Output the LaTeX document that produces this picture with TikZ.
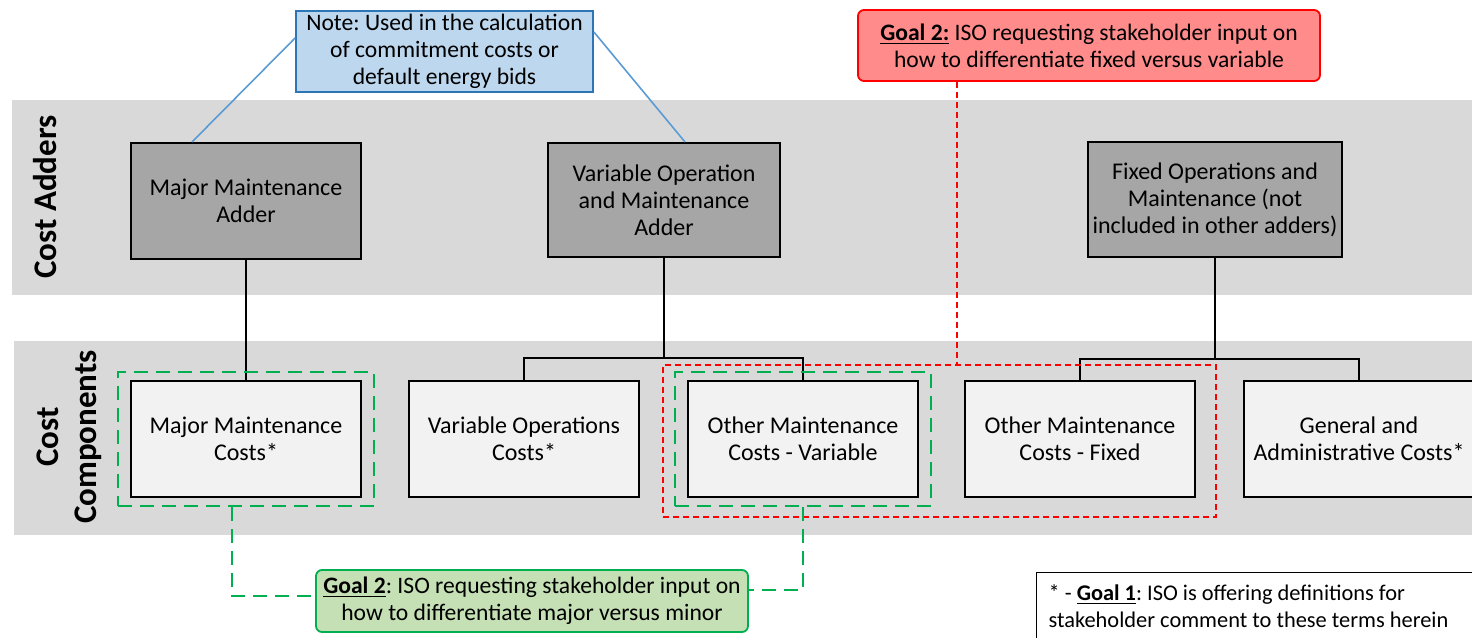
\documentclass[tikz,border=0pt]{standalone}
\usepackage{fontspec}
\setmainfont{Carlito}
\frenchspacing
\usetikzlibrary{fit}
\definecolor{bandgray}{HTML}{D9D9D9}
\definecolor{addergray}{HTML}{A6A6A6}
\definecolor{partgray}{HTML}{F2F2F2}
\definecolor{notefill}{HTML}{BDD7EE}
\definecolor{notedraw}{HTML}{2E75B6}
\definecolor{noteline}{HTML}{5B9BD5}
\definecolor{goalred}{HTML}{FF8B8B}
\definecolor{goalgreen}{HTML}{C5E0B4}
\definecolor{markgreen}{HTML}{00B050}
\tikzset{
	box/.style={draw=black, line width=1pt, minimum width=115pt, minimum height=58pt, align=center, inner sep=1pt, font=\fontsize{12}{13.5}\selectfont},
	adder/.style={box, fill=addergray},
	part/.style={box, fill=partgray},
	link/.style={line width=1pt},
	band/.style={font=\fontsize{16.5}{19}\selectfont\bfseries, rotate=90, align=center},
	greenmark/.style={draw=markgreen, line width=1.2pt, dash pattern=on 7pt off 4pt},
	redmark/.style={draw=red, line width=1pt, dash pattern=on 3pt off 2pt},
	goal/.style={rounded corners=3pt, line width=0.9pt, align=center, font=\fontsize{11.8}{13.5}\selectfont}
}
\begin{document}
\begin{tikzpicture}[x=0.5pt, y=-0.5pt]
	\useasboundingbox (0,0) rectangle (1472,637);
	% grey bands
	\fill[bandgray] (12,100) rectangle (1472,295);
	\fill[bandgray] (14,341) rectangle (1472,535);
	\node[band] (adders) at (45,197) {Cost Adders};
	\node[band] (components) at (69,437) {Cost\\Components};
	
	% cost adders
	\node[adder] (mma) at (246,201) {Major Maintenance\\Adder};
	\node[adder, minimum width=116pt, minimum height=57pt] (voma) at (664,200) {Variable Operation\\and Maintenance\\Adder};
	\node[adder, minimum width=127pt, minimum height=57.5pt] (foma) at (1215,199.5) {Fixed Operations and\\Maintenance (not\\included in other adders)};
	
	% cost components
	\node[part] (mmc) at (246,439) {Major Maintenance\\Costs*};
	\node[part] (voc) at (524,439) {Variable Operations\\Costs*};
	\node[part] (omv) at (803,439) {Other Maintenance\\Costs - Variable};
	\node[part] (omf) at (1080,439) {Other Maintenance\\Costs - Fixed};
	\node[part] (gac) at (1359,439) {General and\\Administrative Costs*};
	
	\draw[link] (mma) -- (mmc);
	\draw[link] (voma.south) -- ++(0,100) coordinate (vbus);
	\draw[link] (voc.north) |- (vbus) -| (omv.north);
	\draw[link] (foma.south) -- ++(0,101) coordinate (fbus);
	\draw[link] (omf.north) |- (fbus) -| (gac.north);
	
	% note
	\node[draw=notedraw, fill=notefill, line width=0.9pt, minimum width=148.5pt, minimum height=40.5pt, align=center, inner sep=1pt, font=\fontsize{11.8}{13.5}\selectfont] (note) at (444.5,51.5) {Note: Used in the calculation\\of commitment costs or\\default energy bids};
	\draw[noteline, line width=0.8pt] ([yshift=6.75pt]note.west) -- ([xshift=31pt]mma.north west);
	\draw[noteline, line width=0.8pt] ([yshift=9.75pt]note.east) -- ([xshift=10.5pt]voma.north);
	
	% goal 2 fixed versus variable
	\node[goal, draw=red, fill=goalred, minimum width=231pt, minimum height=35.5pt] (goalfv) at (1089,45.5) {\underline{\textbf{Goal 2:}} ISO requesting stakeholder input on\\how to differentiate fixed versus variable};
	\node[redmark, fit=(omv)(omf), inner xsep=11pt, inner ysep=8.5pt, xshift=-1pt, yshift=-1pt] (fvfit) {};
	\draw[redmark] ([xshift=-66pt]goalfv.south) -- ([xshift=-66pt]goalfv.south |- fvfit.north);
	
	% goal 2 major versus minor
	\node[greenmark, fit=(mmc), inner xsep=6pt, inner ysep=4pt] (mmfit) {};
	\node[greenmark, fit=(omv), inner xsep=6pt, inner ysep=4pt] (ovfit) {};
	\node[goal, draw=markgreen, fill=goalgreen, minimum width=216pt, minimum height=31pt] (goalmm) at (532,601) {\underline{\textbf{Goal 2}}: ISO requesting stakeholder input on\\how to differentiate major versus minor};
	\draw[greenmark] ([xshift=-7pt]mmfit.south) |- ([yshift=2.5pt]goalmm.west);
	\draw[greenmark] (ovfit.south) |- ([yshift=5.5pt]goalmm.east);
	
	% goal 1
	\node[draw=black, line width=0.6pt, anchor=north west, align=flush left, text width=232pt, inner xsep=6pt, inner ysep=6pt, text depth=30pt, font=\fontsize{11.2}{13.5}\selectfont] (goaldef) at (1036,572) {* - \underline{\textbf{Goal 1}}: ISO is offering definitions for\\stakeholder comment to these terms herein};
\end{tikzpicture}
\end{document}
